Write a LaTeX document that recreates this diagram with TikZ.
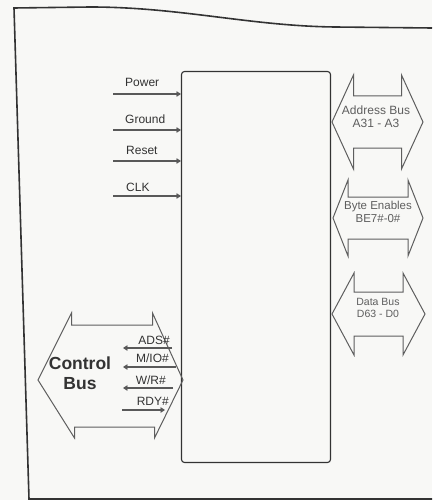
\documentclass[tikz,border=0pt]{standalone}
\usepackage{fontspec}
\setmainfont{Liberation Sans}
\usetikzlibrary{arrows.meta,positioning}
\definecolor{inkGray}{HTML}{333333}
\definecolor{busGray}{HTML}{5E5E5E}
\definecolor{paper}{HTML}{F8F8F6}

\begin{document}
\begin{tikzpicture}[x=1pt,y=-1pt,
  frame/.style={line width=1.6pt, inkGray},
  chip/.style={draw=inkGray, line width=1.1pt, rounded corners=3pt,
    minimum width=149pt, minimum height=391pt, inner sep=0pt},
  sig/.style={-{Straight Barb[length=3.5pt,width=4.5pt]}, line width=1.1pt, gray!70!black},
  lbl/.style={font=\fontsize{12}{13}\selectfont, text=inkGray, inner sep=0pt},
  bus/.style={draw=busGray, line width=1pt, line join=miter},
  buslbl/.style={font=\fontsize{12}{13}\selectfont, text=busGray, align=center, inner sep=0pt},
  ctl/.style={font=\fontsize{17.5}{20}\selectfont\bfseries, text=inkGray, align=center, inner sep=0pt}
]
\fill[paper] (0,0) rectangle (432,500);
\useasboundingbox (0,0) rectangle (432,500);
% sheet edge
\draw[frame] (432,28) -- (335,27) .. controls (250,26) and (180,7) .. (90,7)
  -- (14,8) -- (29,499) -- (432,499);
% processor
\node[chip] (cpu) at (256,267) {};
% inputs on the left
\node[lbl,anchor=base west] (pwrlbl) at (125,87) {Power};
\node[lbl,anchor=base west] (gndlbl) at (125,124) {Ground};
\node[lbl,anchor=base west] (rstlbl) at (126,154) {Reset};
\node[lbl,anchor=base west] (clklbl) at (126,191) {CLK};
\coordinate (pwrin) at (113,94);
\coordinate (gndin) at (113,130);
\coordinate (rstin) at (113,161);
\coordinate (clkin) at (113,196);
\draw[sig] (pwrin) -- (pwrin -| cpu.west);
\draw[sig] (gndin) -- (gndin -| cpu.west);
\draw[sig] (rstin) -- (rstin -| cpu.west);
\draw[sig] (clkin) -- (clkin -| cpu.west);
% buses on the right
\coordinate (addrc) at (377.5,122);
\coordinate (bec) at (378,218);
\coordinate (datac) at (378.5,314);
\draw[bus] (addrc) +(-45.5,0) -- +(-24,-47) -- +(-24,-26) -- +(24,-26) -- +(24,-47)
  -- +(45.5,0) -- +(24,47) -- +(24,26) -- +(-24,26) -- +(-24,47) -- cycle;
\draw[bus] (bec) +(-45,0) -- +(-30,-38) -- +(-30,-21) -- +(30,-21) -- +(30,-38)
  -- +(45,0) -- +(30,38) -- +(30,21) -- +(-30,21) -- +(-30,38) -- cycle;
\draw[bus] (datac) +(-46.5,0) -- +(-24.5,-41) -- +(-24.5,-22) -- +(24.5,-22) -- +(24.5,-41)
  -- +(46.5,0) -- +(24.5,41) -- +(24.5,22) -- +(-24.5,22) -- +(-24.5,41) -- cycle;
\node[buslbl] (addrlbl) at (376,117) {Address Bus\\A31 - A3};
\node[buslbl,font=\fontsize{11.5}{12.5}\selectfont] (belbl) at (378,212) {Byte Enables\\BE7\#-0\#};
\node[buslbl,font=\fontsize{10.5}{11.5}\selectfont] (datalbl) at (378,308) {Data Bus\\D63 - D0};
% control bus
\coordinate (ctlc) at (110.5,378);
\draw[bus] (ctlc) +(-72.5,2) -- +(-39,-65) -- +(-39,-53) -- +(42,-53) -- +(42,-65)
  -- +(72.5,2) -- +(44,60) -- +(44,49) -- +(-36,49) -- +(-36,60) -- cycle;
\node[ctl] (ctllbl) at (80,373) {Control\\Bus};
\node[lbl,anchor=base east] (adslbl) at (170,344) {ADS\#};
\node[lbl,anchor=base east] (miolbl) at (169,362) {M/IO\#};
\node[lbl,anchor=base east] (wrlbl) at (166,384) {W/R\#};
\node[lbl,anchor=base east] (rdylbl) at (169,405) {RDY\#};
\coordinate (adsr) at (172,348);
\coordinate (adsl) at (123,348);
\coordinate (mior) at (176,367);
\coordinate (miol) at (123,367);
\coordinate (wrr) at (173,388);
\coordinate (wrl) at (123,388);
\coordinate (rdyl) at (122,410);
\coordinate (rdyr) at (165,410);
\draw[sig] (adsr) -- (adsl);
\draw[sig] (mior) -- (miol);
\draw[sig] (wrr) -- (wrl);
\draw[sig] (rdyl) -- (rdyr);
\end{tikzpicture}
\end{document}
